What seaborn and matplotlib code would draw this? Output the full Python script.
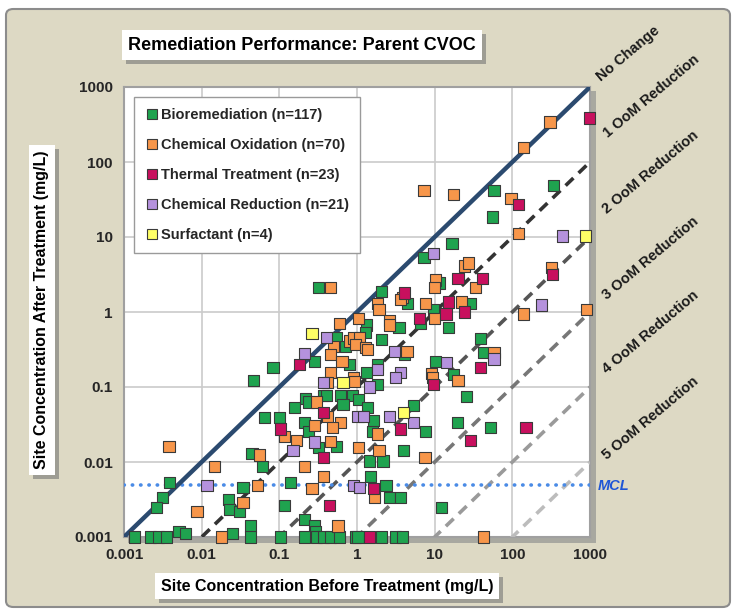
import pandas as pd
import seaborn as sns
import matplotlib.pyplot as plt
import matplotlib.patheffects as pe
from matplotlib.patches import FancyBboxPatch, Rectangle
from matplotlib.ticker import FixedLocator, FixedFormatter, NullLocator

# site concentrations (mg/L) before / after treatment
bio_before = [58, 56, 343, 16.7, 7.3, 0.32, 2.07, 4.5, 11.4, 29.3, 9.7, 6.6, 15, 1.32, 1.3, 3.47,
              0.54, 0.72, 2.07, 4.08, 0.28, 0.8, 1.83, 1.32, 1.83, 10.2, 17.5, 39, 43, 26,
              0.22, 0.37, 0.62, 0.88, 1.05, 52, 19.5, 5.4, 7.6, 4.0, 1.6, 2.16, 1.43, 1.5,
              2.36, 2.63, 3.63, 12.4, 0.21, 0.28, 0.29,
              0.21, 0.3, 0.37, 0.46, 0.6, 0.96, 1.03, 2.07, 3.16, 3.9,
              0.155, 0.24, 0.4, 0.66, 1.38, 1.65, 0.21, 0.24, 0.32, 0.54, 0.14, 0.065, 0.1,
              0.0445, 0.06, 0.0039, 0.034, 0.0031, 0.0026, 0.022, 0.023, 0.031, 0.117,
              0.0051, 0.0062, 0.00135, 0.00217, 0.0028, 0.0035, 0.025, 0.042, 0.042, 0.104,
              0.083, 0.047]
bio_after = [42, 18.5, 49, 8.1, 5.4, 2.1, 1.9, 1.3, 2.44, 1.3, 1.08, 0.7, 0.62, 0.67, 0.54, 0.62,
             0.46, 0.35, 0.43, 0.27, 0.22, 0.2, 0.2, 0.156, 0.108, 0.22, 0.147, 0.44, 0.29, 0.074,
             0.07, 0.076, 0.076, 0.076, 0.068, 0.029, 0.034, 0.057, 0.0255, 0.0142, 0.0255, 0.0103,
             0.0103, 0.0064, 0.0049, 0.0034, 0.0034, 0.0025, 0.0017, 0.0014, 0.0012,
             0.001, 0.001, 0.001, 0.001, 0.001, 0.001, 0.001, 0.001, 0.001, 0.001,
             0.054, 0.063, 0.078, 0.058, 0.053, 0.036, 0.034, 0.0255, 0.0154, 0.0163, 0.0053,
             0.039, 0.039, 0.013, 0.0087, 0.0053, 0.0046, 0.0034, 0.0025, 0.0032, 0.0023, 0.0022,
             0.0026, 0.0012, 0.0011, 0.001, 0.001, 0.001, 0.001, 0.0011, 0.0014, 0.001, 0.001,
             0.18, 0.122]

chemox_before = [305, 141, 7.3, 17.5, 96, 119, 0.45, 3.9, 3.63, 1.83, 1.92, 10.2, 10, 24, 27.6,
                 33.5, 7.6, 22.4, 10, 0.6, 1.05, 2.6, 2.65, 0.8, 0.91, 1.09, 0.5, 0.96, 1.3, 1.38,
                 4.4, 0.45, 0.64, 0.46, 0.42, 0.91, 0.94, 9.2, 9.5, 20, 316, 141, 912, 58, 42,
                 1.05, 1.92, 1.83, 7.5, 1.7, 0.57, 0.3, 0.42, 0.62, 0.28, 0.49, 0.166, 0.45, 0.21,
                 0.37, 0.263, 0.0038, 0.117, 0.056, 0.0145, 0.053, 0.034, 0.0087, 0.018]
chemox_after = [341, 158, 42, 37, 33, 11, 2.1, 1.58, 1.45, 1.3, 1.08, 2.67, 2.1, 4.1, 4.5,
                2.1, 1.3, 1.36, 0.82, 0.7, 0.82, 0.78, 0.67, 0.41, 0.45, 0.45, 0.35, 0.37, 0.34, 0.32,
                0.3, 0.27, 0.22, 0.156, 0.115, 0.134, 0.12, 0.15, 0.134, 0.122, 3.9, 0.94, 1.08, 0.29,
                0.001, 0.0154, 0.0142, 0.0236, 0.0115, 0.0034, 0.0014, 0.063, 0.04, 0.034, 0.031,
                0.029, 0.0194, 0.019, 0.0087, 0.0064, 0.0044, 0.0163, 0.022, 0.0124, 0.0087,
                0.0049, 0.0029, 0.0022, 0.001]

thermal_before = [990, 119, 4.08, 20, 41, 15, 24.5, 14, 6.3, 0.18, 39, 9.7, 330, 150, 29.3,
                  3.6, 1.65, 0.44, 0.37, 0.37, 1.45, 0.104]
thermal_after = [386, 27, 1.79, 2.8, 2.8, 1.36, 1.0, 0.94, 0.82, 0.2, 0.18, 0.108, 3.2, 0.029,
                 0.0194, 0.0275, 0.0044, 0.0026, 0.046, 0.0115, 0.001, 0.0275]

chemred_before = [447, 9.7, 0.4, 3.0, 0.21, 1.83, 3.63, 3.16, 0.37, 1.45, 14.2, 240, 58, 2.63,
                  5.4, 1.03, 1.2, 0.28, 0.15, 0.9, 1.09, 0.0117]
chemred_after = [10.3, 6.1, 0.46, 0.3, 0.28, 0.17, 0.156, 0.134, 0.115, 0.1, 0.21, 1.24, 0.236,
                 0.04, 0.034, 0.04, 0.04, 0.0185, 0.0142, 0.0049, 0.0046, 0.0049]

surf_before = [885, 0.263, 0.66, 4.0]
surf_after = [10.3, 0.51, 0.115, 0.046]

series_names = ["Bioremediation (n=117)", "Chemical Oxidation (n=70)", "Thermal Treatment (n=23)",
                "Chemical Reduction (n=21)", "Surfactant (n=4)"]
series_colors = ["#1fa34f", "#f7964a", "#c8105e", "#b592dd", "#ffff66"]

ticks = [0.001, 0.01, 0.1, 1, 10, 100, 1000]
tick_labels = ["0.001", "0.01", "0.1", "1", "10", "100", "1000"]

oom_levels = [0, 1, 2, 3, 4, 5]
oom_labels = ["No Change", "1 OoM Reduction", "2 OoM Reduction", "3 OoM Reduction",
              "4 OoM Reduction", "5 OoM Reduction"]
oom_colors = ["#2b4a6f", "#333333", "#555555", "#777777", "#9a9a9a", "#bcbcbc"]
mcl = 0.005

frames = []
for name, bx, ay in zip(series_names,
                        [bio_before, chemox_before, thermal_before, chemred_before, surf_before],
                        [bio_after, chemox_after, thermal_after, chemred_after, surf_after]):
    frames.append(pd.DataFrame({"before": bx, "after": ay, "tech": name}))
df = pd.concat(frames, ignore_index=True)

sns.set_style("white")
plt.rcParams["font.family"] = ["Liberation Sans", "DejaVu Sans"]

W, H = 736, 613
fig = plt.figure(figsize=(W / 100, H / 100), dpi=100, facecolor="white")

# beige panel behind everything
fig.patches.append(FancyBboxPatch((6 / W, 6 / H), 724 / W, 598 / H,
                                  boxstyle="round,pad=0,rounding_size=0.01",
                                  transform=fig.transFigure, fc="#ddd9c4", ec="#8c8c8c",
                                  lw=1.5, zorder=-3))
# plot area shadow
fig.patches.append(Rectangle((128 / W, 1 - 543 / H), 468 / W, 452 / H, transform=fig.transFigure,
                             fc="#a8a8a0", ec="none", zorder=-2))

ax = fig.add_axes([124 / W, 1 - 537 / H, 466 / W, 450 / H])
ax.set_facecolor("white")

sns.scatterplot(data=df, x="before", y="after", hue="tech", palette=series_colors,
                hue_order=series_names, marker="s", s=64, edgecolor="#3a3a3a", linewidth=0.8,
                ax=ax, clip_on=False, zorder=5)

ax.set_xscale("log")
ax.set_yscale("log")
ax.set_xlim(ticks[0], ticks[-1])
ax.set_ylim(ticks[0], ticks[-1])

# reference lines: no change and order-of-magnitude reductions
line_x = [ticks[0], ticks[-1]]
for lev, col in zip(oom_levels, oom_colors):
    ys = [v / 10 ** lev for v in line_x]
    if lev == 0:
        ax.plot(line_x, ys, color=col, lw=3.2, zorder=4, solid_capstyle="butt")
    else:
        ax.plot(line_x, ys, color=col, lw=2.6, ls=(0, (3, 2)), zorder=3)
ax.axhline(mcl, color="#4a8be6", lw=2.6, ls=(0, (0.1, 2.2)), dash_capstyle="round", zorder=3)

for a in (ax.xaxis, ax.yaxis):
    a.set_major_locator(FixedLocator(ticks))
    a.set_major_formatter(FixedFormatter(tick_labels))
    a.set_minor_locator(NullLocator())
ax.grid(True, color="#cbcbcb", lw=1.2, zorder=0)
ax.set_axisbelow(True)
for sp in ax.spines.values():
    sp.set_color("#a0a0a0")
    sp.set_linewidth(1.5)
ax.tick_params(axis="both", length=4, color="#888888", labelsize=11, pad=4)
for lbl in ax.get_xticklabels() + ax.get_yticklabels():
    lbl.set_fontweight("bold")
ax.set_xlabel("")
ax.set_ylabel("")

handles, labels = ax.get_legend_handles_labels()
for h in handles:
    h.set_markersize(7.5)
leg = ax.legend(handles, labels, loc="upper left", bbox_to_anchor=(0.006, 0.994),
                frameon=True, fancybox=False, edgecolor="#9a9a9a", framealpha=1,
                handletextpad=0.1, handlelength=1.0, labelspacing=1.1, borderpad=0.75,
                prop={"weight": "bold", "size": 10.5})
leg.get_frame().set_linewidth(1.0)

# labels for the reference lines, outside the plot area
oom_pos = [(628, 54), (651, 96), (651, 172), (651, 258), (651, 332), (651, 418)]
for txt, (px, py) in zip(oom_labels, oom_pos):
    fig.text(px / W, 1 - py / H, txt, rotation=40, ha="center", va="center",
             fontsize=10.5, fontweight="bold", color="#1a1a1a", rotation_mode="anchor")
fig.text(598 / W, 1 - 486 / H, "MCL", ha="left", va="center", fontsize=10.5,
         fontweight="bold", style="italic", color="#1f56d6")


# title and axis labels in white boxes with a soft shadow
def boxed(x, y, s, size, rot=0):
    t = fig.text(x / W, 1 - y / H, s, ha="center", va="center", fontsize=size,
                 fontweight="bold", rotation=rot, color="black",
                 bbox=dict(boxstyle="square,pad=0.35", fc="white", ec="none"))
    t.get_bbox_patch().set_path_effects(
        [pe.SimplePatchShadow(offset=(3, -3), shadow_rgbFace="#8f8f88", alpha=0.8), pe.Normal()])
    return t


boxed(302, 45, "Remediation Performance: Parent CVOC", 13)
boxed(327, 586, "Site Concentration Before Treatment (mg/L)", 11.5)
boxed(42, 310, "Site Concentration After Treatment (mg/L)", 11.5, rot=90)

fig.savefig("out.png", dpi=100, facecolor="white")
